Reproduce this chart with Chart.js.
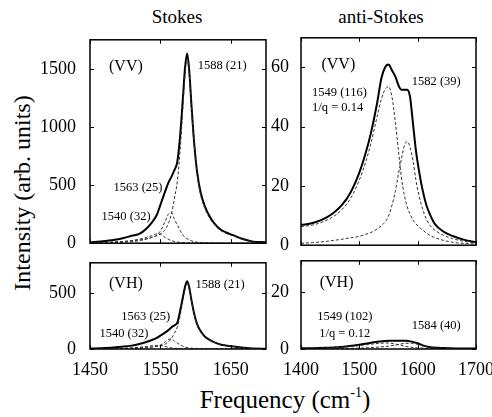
<!DOCTYPE html>
<html>
<head>
<meta charset="utf-8">
<script src="https://cdn.jsdelivr.net/npm/chart.js@4.4.1/dist/chart.umd.min.js"></script>
<style>
  body { margin: 0; width: 492px; height: 417px; position: relative; overflow: hidden; background: #fff;
         font-family: "Liberation Serif", "Times New Roman", Times, "DejaVu Serif", "Noto Serif", serif; color: #000; }
  canvas { position: absolute; }
  .t { position: absolute; line-height: 1; white-space: nowrap; text-align: center; }
  .sup { font-size: 14px; position: relative; top: -11px; }
</style>
</head>
<body>
<div class="t" style="left:77px;width:200px;top:7px;font-size:19px">Stokes</div>
<div class="t" style="left:281px;width:200px;top:7px;font-size:19px">anti-Stokes</div>
<div class="t" style="left:185px;width:200px;top:387px;font-size:25px">Frequency (cm<span class="sup">-1</span>)</div>
<div class="t" style="left:-108px;width:260px;top:181px;height:24px;line-height:24px;font-size:24px;transform:rotate(-90deg)">Intensity (arb. units)</div>
<script>
// Stokes side (1450-1700 cm-1)
const stokesFreq = [1450, 1465, 1480, 1495, 1507, 1520, 1530, 1538, 1545, 1550, 1557, 1562, 1566, 1570, 1574, 1578, 1582, 1585, 1588, 1591, 1594, 1598, 1602, 1607, 1613, 1620, 1626, 1635, 1645, 1655, 1665, 1680, 1700];
const vvTotal = [8, 15, 26, 40, 60, 80, 125, 180, 245, 330, 450, 530, 575, 630, 700, 920, 1250, 1510, 1632, 1480, 1200, 860, 620, 440, 320, 230, 175, 120, 88, 65, 40, 15, 8];
const vv1588 = [5, 7, 10, 15, 20, 28, 38, 50, 65, 80, 120, 180, 260, 390, 530, 800, 1170, 1450, 1590, 1450, 1170, 840, 600, 420, 300, 215, 165, 110, 80, 60, 36, 13, 7];
const vv1563 = [2, 3, 5, 8, 12, 22, 35, 50, 70, 105, 190, 255, 262, 205, 160, 110, 70, 50, 38, 28, 20, 13, 9, 6, 4, 2, 1, 1, 0, 0, 0, 0, 0];
const vv1540 = [2, 4, 7, 12, 20, 35, 50, 65, 80, 78, 48, 32, 22, 15, 10, 7, 5, 4, 3, 2, 2, 1, 1, 1, 0, 0, 0, 0, 0, 0, 0, 0, 0];
const vhTotal = [4, 7, 12, 20, 28, 45, 62, 80, 100, 120, 148, 172, 195, 212, 235, 340, 465, 555, 606, 548, 441, 315, 225, 160, 112, 81, 61, 41, 30, 22, 13, 5, 3];
const vh1588 = [2, 3, 4, 6, 7, 10, 14, 18, 24, 30, 44, 67, 96, 144, 196, 296, 433, 537, 592, 537, 433, 311, 222, 155, 111, 80, 61, 41, 30, 22, 13, 5, 3];
const vh1563 = [1, 1, 2, 3, 4, 7, 12, 17, 24, 36, 65, 87, 89, 70, 54, 37, 24, 17, 13, 10, 7, 4, 3, 2, 1, 1, 0, 0, 0, 0, 0, 0, 0];
const vh1540 = [1, 2, 3, 5, 9, 16, 22, 29, 32, 31, 22, 14, 10, 7, 5, 3, 2, 2, 1, 1, 1, 0, 0, 0, 0, 0, 0, 0, 0, 0, 0, 0, 0];

// anti-Stokes side (1400-1700 cm-1)
const antiFreq = [1400, 1420, 1440, 1455, 1470, 1485, 1500, 1510, 1520, 1530, 1538, 1544, 1550, 1556, 1562, 1567, 1572, 1577, 1582, 1587, 1592, 1597, 1602, 1608, 1615, 1622, 1630, 1645, 1660, 1680, 1700];
const avvTotal = [6.8, 7.5, 9, 10.8, 13.5, 17.8, 24.5, 30.5, 38, 47.5, 56.5, 60, 61, 59, 56.8, 54, 52.5, 52.5, 52.5, 50, 41, 32, 25.4, 19, 13.5, 10, 7, 4.5, 3.1, 1.8, 1];
const avv1549 = [6.3, 6.8, 8.1, 9.6, 12, 15.8, 22, 27.5, 34.5, 43, 49.5, 52.5, 53.5, 50, 41, 32, 23, 17, 13, 10.5, 8.5, 7.2, 6.2, 5.2, 4.1, 3.2, 2.5, 1.6, 1, 0.6, 0.4];
const avv1582 = [0.6, 0.9, 1.2, 1.6, 2, 2.5, 3, 3.6, 4.3, 5.4, 6.6, 7.8, 9.8, 13.5, 18.5, 24, 29, 33.5, 35, 33, 28.5, 22, 17, 12.5, 8.8, 6.5, 5, 3.3, 2.2, 1.3, 0.8];
const antiVhFreq = [1400, 1420, 1440, 1460, 1480, 1500, 1520, 1535, 1550, 1565, 1580, 1590, 1600, 1610, 1620, 1635, 1650, 1675, 1700];
const avhTotal = [0.3, 0.3, 0.4, 0.6, 1.0, 1.5, 2.2, 2.6, 2.9, 2.9, 2.9, 2.6, 2.0, 1.2, 0.7, 0.4, 0.3, 0.2, 0.2];
const avh1549 = [0.2, 0.3, 0.4, 0.5, 0.8, 1.2, 1.7, 2.0, 2.1, 1.6, 0.9, 0.6, 0.4, 0.3, 0.2, 0.15, 0.1, 0.1, 0.1];
const avh1584 = [0.05, 0.05, 0.1, 0.1, 0.2, 0.3, 0.5, 0.7, 1.0, 1.5, 2.0, 2.0, 1.6, 1.0, 0.6, 0.35, 0.2, 0.1, 0.05];

// tick values
const stokesTicks = [1450, 1550, 1650];
const antiTicks = [1400, 1500, 1600, 1700];
const vvStokesY = [0, 500, 1000, 1500];
const vhStokesY = [0, 500];
const vvAntiY = [0, 20, 40, 60];
const vhAntiY = [0, 20];

const FONT = '"Liberation Serif", "Times New Roman", Times, "DejaVu Serif", "Noto Serif", serif';

// panel boxes are the plot areas in page pixels [left, top, right, bottom]
const panels = [
  { box: [90, 35, 266, 248], xMin: 1450, xMax: 1700, yMax: 1750, showX: false, labelPad: 6,
    tickX: stokesTicks, tickY: vvStokesY, freq: stokesFreq, total: vvTotal, parts: [vv1588, vv1563, vv1540],
    notes: [['(VV)', 1501, 1520, 'center', 16], ['1588 (21)', 1603, 1528, 'left', 12.5],
            ['1563 (25)', 1553, 476, 'right', 12.5], ['1540 (32)', 1536, 230, 'right', 12.5]] },
  { box: [301, 35, 476, 248], xMin: 1400, xMax: 1700, yMax: 70, showX: false, labelPad: 4,
    tickX: antiTicks, tickY: vvAntiY, freq: antiFreq, total: avvTotal, parts: [avv1549, avv1582],
    notes: [['(VV)', 1464, 60.8, 'center', 16], ['1582 (39)', 1590, 55.2, 'left', 12.5],
            ['1549 (116)', 1419, 51.6, 'left', 12.5], ['1/q = 0.14', 1419, 46.3, 'left', 12.5]] },
  { box: [90, 258, 266, 349], xMin: 1450, xMax: 1700, yMax: 770, showX: true, labelPad: 6,
    tickX: stokesTicks, tickY: vhStokesY, freq: stokesFreq, total: vhTotal, parts: [vh1588, vh1563, vh1540],
    notes: [['(VH)', 1501, 584, 'center', 16], ['1588 (21)', 1600, 575, 'left', 12.5],
            ['1563 (25)', 1564, 288, 'right', 12.5], ['1540 (32)', 1533, 135, 'right', 12.5]] },
  { box: [301, 258, 476, 349], xMin: 1400, xMax: 1700, yMax: 31, showX: true, labelPad: 4,
    tickX: antiTicks, tickY: vhAntiY, freq: antiVhFreq, total: avhTotal, parts: [avh1549, avh1584],
    notes: [['(VH)', 1461, 23.2, 'center', 16], ['1549 (102)', 1475, 11.2, 'center', 12.5],
            ['1/q = 0.12', 1475, 5.5, 'center', 12.5], ['1584 (40)', 1590, 8.2, 'left', 12.5]] }
];

// box, inward ticks on all four sides and the in-panel labels
function framePlugin(p) {
  return {
    id: 'frame',
    afterDraw(chart) {
      const { ctx, chartArea: a, scales: { x, y } } = chart;
      ctx.save();
      ctx.strokeStyle = '#000';
      ctx.lineWidth = 1;
      ctx.beginPath();
      p.tickX.forEach(v => {
        const px = Math.round(x.getPixelForValue(v)) + 0.5;
        ctx.moveTo(px, a.bottom); ctx.lineTo(px, a.bottom - 4);
        ctx.moveTo(px, a.top); ctx.lineTo(px, a.top + 4);
      });
      p.tickY.forEach(v => {
        const py = Math.round(y.getPixelForValue(v)) + 0.5;
        ctx.moveTo(a.left, py); ctx.lineTo(a.left + 4, py);
        ctx.moveTo(a.right, py); ctx.lineTo(a.right - 4, py);
      });
      ctx.stroke();
      ctx.lineWidth = 1.5;
      ctx.strokeRect(a.left, a.top, a.right - a.left, a.bottom - a.top);
      ctx.fillStyle = '#000';
      ctx.textBaseline = 'middle';
      p.notes.forEach(([text, nx, ny, align, size]) => {
        ctx.font = size + 'px ' + FONT;
        ctx.textAlign = align;
        ctx.fillText(text, x.getPixelForValue(nx), y.getPixelForValue(ny));
      });
      ctx.restore();
    }
  };
}

panels.forEach(p => {
  const [l, t, r, b] = p.box;
  const padTop = 12, padRight = 20, padBottom = p.showX ? 6 : 12;
  const yw = 50, xh = p.showX ? 30 : 0;
  const c = document.createElement('canvas');
  c.width = (r - l) + yw + padRight;
  c.height = (b - t) + padTop + xh + padBottom;
  c.style.left = (l - yw) + 'px';
  c.style.top = (t - padTop) + 'px';
  document.body.appendChild(c);

  const pts = vals => p.freq.map((f, i) => ({ x: f, y: vals[i] }));
  const datasets = p.parts.map(vals => ({
    data: pts(vals), borderColor: '#333', borderWidth: 1, borderDash: [3, 2],
    pointRadius: 0, cubicInterpolationMode: 'monotone'
  }));
  datasets.push({
    data: pts(p.total), borderColor: '#000', borderWidth: 2,
    pointRadius: 0, cubicInterpolationMode: 'monotone'
  });

  new Chart(c, {
    type: 'line',
    data: { datasets },
    options: {
      responsive: false,
      animation: false,
      layout: { padding: { top: padTop, right: padRight, bottom: padBottom, left: 0 } },
      plugins: { legend: { display: false }, tooltip: { enabled: false } },
      scales: {
        x: {
          type: 'linear', min: p.xMin, max: p.xMax,
          afterBuildTicks: s => { s.ticks = p.tickX.map(v => ({ value: v })); },
          afterFit: s => { s.height = xh; },
          grid: { display: false }, border: { display: false },
          ticks: { display: p.showX, padding: 2, color: '#000', autoSkip: false, maxRotation: 0,
                   font: { family: FONT, size: 18 }, callback: v => String(v) }
        },
        y: {
          min: 0, max: p.yMax,
          afterBuildTicks: s => { s.ticks = p.tickY.map(v => ({ value: v })); },
          afterFit: s => { s.width = yw; },
          grid: { display: false }, border: { display: false },
          ticks: { padding: p.labelPad, color: '#000', autoSkip: false,
                   font: { family: FONT, size: 18 }, callback: v => String(v) }
        }
      }
    },
    plugins: [framePlugin(p)]
  });
});
</script>
</body>
</html>
